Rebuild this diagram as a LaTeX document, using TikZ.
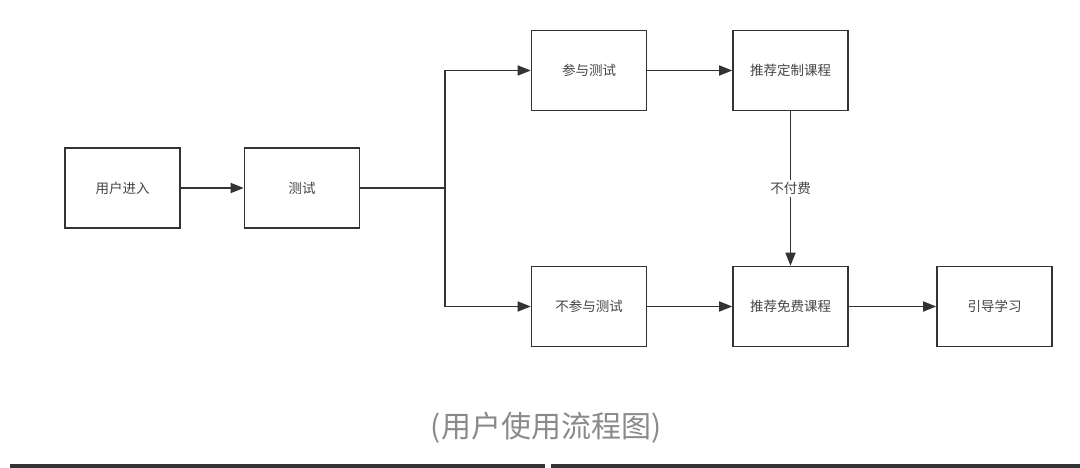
\documentclass[tikz,border=0pt]{standalone}
\usepackage{fontspec}
\newfontfamily\cjk{Noto Sans CJK SC}
\usetikzlibrary{arrows.meta}
\definecolor{ln}{HTML}{333333}
\definecolor{tx}{HTML}{444444}
\definecolor{cap}{HTML}{8A8A8A}
\begin{document}
\begin{tikzpicture}[x=1pt,y=-1pt,
  box/.style={draw=ln,line width=1.6pt,minimum width=115pt,minimum height=80pt,inner sep=0pt,font=\cjk\fontsize{13.5}{14}\selectfont,text=tx},
  conn/.style={draw=ln,line width=1.6pt,-{Triangle[length=13pt,width=10pt]}},
  plain/.style={draw=ln,line width=1.6pt}]
\useasboundingbox (0,0) rectangle (1080,468);
\node[box] (enter) at (122.5,188) {用户进入};
\node[box] (test) at (302,188) {测试};
\node[box] (join) at (589,70.5) {参与测试};
\node[box] (custom) at (790.5,70.5) {推荐定制课程};
\node[box] (nojoin) at (589,306.5) {不参与测试};
\node[box] (free) at (790.5,306.5) {推荐免费课程};
\node[box] (guide) at (994.5,306.5) {引导学习};
\coordinate (split) at (445,188);
\draw[conn] (enter) -- (test);
\draw[plain] (test) -- (split);
\draw[conn] (split) |- (join);
\draw[conn] (split) |- (nojoin);
\draw[conn] (join) -- (custom);
\draw[conn] (nojoin) -- (free);
\draw[conn] (free) -- (guide);
\draw[conn] (custom) -- node[fill=white,inner sep=2pt,font=\cjk\fontsize{13.5}{14}\selectfont,text=tx] (nopay) {不付费} (free);
\node[font=\cjk\fontsize{30}{32}\selectfont,text=cap] (caption) at (546,428) {(用户使用流程图)};
\fill[ln] (10,464) rectangle (545,468);
\fill[ln] (551,464) rectangle (1080,468);
\end{tikzpicture}
\end{document}
